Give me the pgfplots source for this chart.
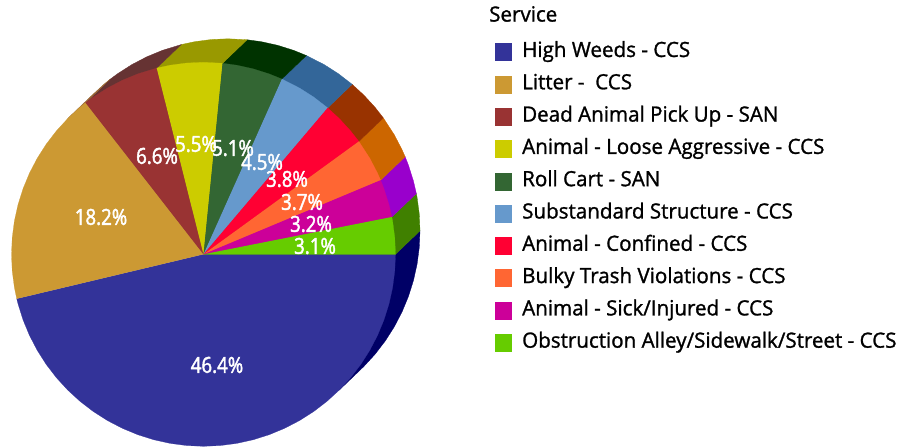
\documentclass[border=0pt]{standalone}
\usepackage{pgfplots}
\pgfplotsset{compat=1.18}
\usepackage{fontspec}
\setmainfont[FakeStretch=0.98,FakeBold=1.2]{Open Sans}
\newfontfamily\labelfont[FakeStretch=0.85,FakeBold=2]{Open Sans}

\definecolor{c1}{HTML}{333399}
\definecolor{c2}{HTML}{CC9933}
\definecolor{c3}{HTML}{993333}
\definecolor{c4}{HTML}{CCCC00}
\definecolor{c5}{HTML}{336633}
\definecolor{c6}{HTML}{6699CC}
\definecolor{c7}{HTML}{FF0033}
\definecolor{c8}{HTML}{FF6633}
\definecolor{c9}{HTML}{CC0099}
\definecolor{c10}{HTML}{66CC00}
\definecolor{d1}{HTML}{000066}
\definecolor{d2}{HTML}{996633}
\definecolor{d3}{HTML}{663333}
\definecolor{d4}{HTML}{999900}
\definecolor{d5}{HTML}{003300}
\definecolor{d6}{HTML}{336699}
\definecolor{d7}{HTML}{993300}
\definecolor{d8}{HTML}{CC6600}
\definecolor{d9}{HTML}{9900CC}
\definecolor{d10}{HTML}{408000}

% a = angle, r = radius, d = 1 for the rim, which is offset up and to the right
\newcommand{\slice}[2]{%
  \addplot[#1] table[row sep=\\,
    x expr={203.5+\thisrow{r}*cos(\thisrow{a})+\thisrow{d}*24.5},
    y expr={190.7+\thisrow{r}*sin(\thisrow{a})+\thisrow{d}*23.5}]
    {a r d\\ #2};
}
\newcommand{\pct}[3]{\node[text=white,font=\labelfont\fontsize{22}{26}\selectfont] at (axis cs:#1,#2) {#3};}

\pgfplotsset{
  rim/.style={fill=#1,draw=#1,line width=0.3pt,forget plot},
  top/.style={fill=#1,draw=#1,line width=0.2pt},
}

\begin{document}
\begin{tikzpicture}
\begin{axis}[
    scale only axis,
    width=914pt, height=445pt,
    xmin=0, xmax=914, ymin=0, ymax=445,
    hide axis, clip=false,
    legend cell align=left,
    legend image code/.code={\path[#1] (0pt,-8.5pt) rectangle (16pt,8.5pt);\path (27pt,0pt);},
    legend style={
        at={(axis cs:495,403)}, anchor=north west,
        draw=none, fill=none, inner sep=0pt, outer sep=0pt,
        font=\fontsize{21}{25}\selectfont,
        row sep=12.3pt,
        nodes={inner sep=0pt, text height=15pt, text depth=5pt},
    },
]
\path (axis cs:0,0) -- (axis cs:914,445);

% rim, back layer
\slice{rim=d1}{315 192 0\\ 315 192 1\\ 320 192 1\\ 325 192 1\\ 330 192 1\\ 335 192 1\\ 340 192 1\\ 345 192 1\\ 350 192 1\\ 355 192 1\\ 360 192 1\\ 360 192 0\\ 0 0 0\\}
\slice{rim=d10}{0 192 0\\ 0 192 1\\ 5 192 1\\ 10 192 1\\ 11.2 192 1\\ 11.2 192 0\\ 0 0 0\\}
\slice{rim=d9}{11.2 192 0\\ 11.2 192 1\\ 15 192 1\\ 20 192 1\\ 22.7 192 1\\ 22.7 192 0\\ 0 0 0\\}
\slice{rim=d8}{22.7 192 0\\ 22.7 192 1\\ 25 192 1\\ 30 192 1\\ 36 192 1\\ 36 192 0\\ 0 0 0\\}
\slice{rim=d7}{36 192 0\\ 36 192 1\\ 40 192 1\\ 45 192 1\\ 49.7 192 1\\ 49.7 192 0\\ 0 0 0\\}
\slice{rim=d6}{49.7 192 0\\ 49.7 192 1\\ 55 192 1\\ 60 192 1\\ 65.9 192 1\\ 65.9 192 0\\ 0 0 0\\}
\slice{rim=d5}{65.9 192 0\\ 65.9 192 1\\ 70 192 1\\ 75 192 1\\ 80 192 1\\ 84.3 192 1\\ 84.3 192 0\\ 0 0 0\\}
\slice{rim=d4}{84.3 192 0\\ 84.3 192 1\\ 90 192 1\\ 95 192 1\\ 100 192 1\\ 104.1 192 1\\ 104.1 192 0\\ 0 0 0\\}
\slice{rim=d3}{104.1 192 0\\ 104.1 192 1\\ 110 192 1\\ 115 192 1\\ 120 192 1\\ 125 192 1\\ 127.9 192 1\\ 127.9 192 0\\ 0 0 0\\}
\slice{rim=d2}{127.9 192 0\\ 127.9 192 1\\ 130 192 1\\ 135 192 1\\ 135 192 0\\ 0 0 0\\}

% top of the pie
\slice{top=c1}{0 0 0\\ 193.4 192 0\\ 195 192 0\\ 200 192 0\\ 205 192 0\\ 210 192 0\\ 215 192 0\\ 220 192 0\\ 225 192 0\\ 230 192 0\\ 235 192 0\\ 240 192 0\\ 245 192 0\\ 250 192 0\\ 255 192 0\\ 260 192 0\\ 265 192 0\\ 270 192 0\\ 275 192 0\\ 280 192 0\\ 285 192 0\\ 290 192 0\\ 295 192 0\\ 300 192 0\\ 305 192 0\\ 310 192 0\\ 315 192 0\\ 320 192 0\\ 325 192 0\\ 330 192 0\\ 335 192 0\\ 340 192 0\\ 345 192 0\\ 350 192 0\\ 355 192 0\\ 360 192 0\\}
\addlegendentry{High Weeds - CCS}
\slice{top=c2}{0 0 0\\ 127.9 192 0\\ 130 192 0\\ 135 192 0\\ 140 192 0\\ 145 192 0\\ 150 192 0\\ 155 192 0\\ 160 192 0\\ 165 192 0\\ 170 192 0\\ 175 192 0\\ 180 192 0\\ 185 192 0\\ 190 192 0\\ 193.4 192 0\\}
\addlegendentry{Litter -\ \ CCS}
\slice{top=c3}{0 0 0\\ 104.1 192 0\\ 110 192 0\\ 115 192 0\\ 120 192 0\\ 125 192 0\\ 127.9 192 0\\}
\addlegendentry{Dead Animal Pick Up - SAN}
\slice{top=c4}{0 0 0\\ 84.3 192 0\\ 90 192 0\\ 95 192 0\\ 100 192 0\\ 104.1 192 0\\}
\addlegendentry{Animal - Loose Aggressive - CCS}
\slice{top=c5}{0 0 0\\ 65.9 192 0\\ 70 192 0\\ 75 192 0\\ 80 192 0\\ 84.3 192 0\\}
\addlegendentry{Roll Cart - SAN}
\slice{top=c6}{0 0 0\\ 49.7 192 0\\ 55 192 0\\ 60 192 0\\ 65.9 192 0\\}
\addlegendentry{Substandard Structure - CCS}
\slice{top=c7}{0 0 0\\ 36 192 0\\ 40 192 0\\ 45 192 0\\ 49.7 192 0\\}
\addlegendentry{Animal - Confined - CCS}
\slice{top=c8}{0 0 0\\ 22.7 192 0\\ 25 192 0\\ 30 192 0\\ 36 192 0\\}
\addlegendentry{Bulky Trash Violations - CCS}
\slice{top=c9}{0 0 0\\ 11.2 192 0\\ 15 192 0\\ 20 192 0\\ 22.7 192 0\\}
\addlegendentry{Animal - Sick/Injured - CCS}
\slice{top=c10}{0 0 0\\ 0 192 0\\ 5 192 0\\ 10 192 0\\ 11.2 192 0\\}
\addlegendentry{Obstruction Alley/Sidewalk/Street - CCS}

\pct{217}{80}{46.4\%}
\pct{101}{228}{18.2\%}
\pct{157}{289}{6.6\%}
\pct{196}{301}{5.5\%}
\pct{233}{297}{5.1\%}
\pct{262}{283}{4.5\%}
\pct{287}{266}{3.8\%}
\pct{302}{243}{3.7\%}
\pct{311}{221}{3.2\%}
\pct{315}{199}{3.1\%}

\node[anchor=west,inner sep=0pt,font=\fontsize{21}{25}\selectfont] at (axis cs:489,431) {Service};
\end{axis}
\end{tikzpicture}
\end{document}
